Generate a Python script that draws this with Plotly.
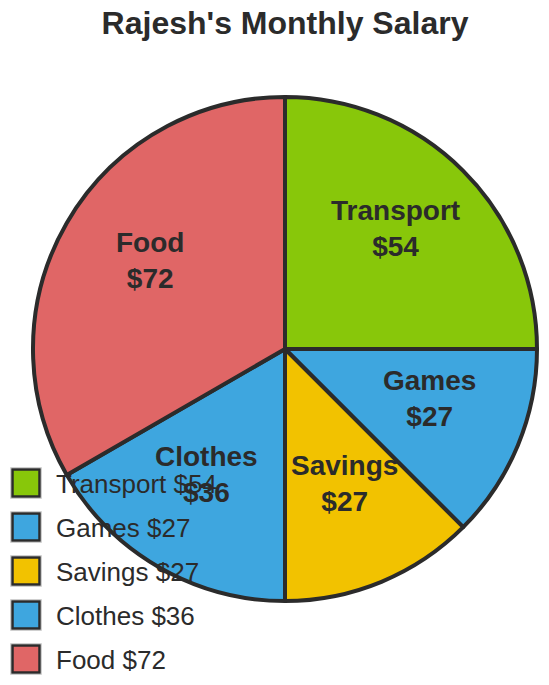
import math
import plotly.graph_objects as go

labels = ["Transport", "Games", "Savings", "Clothes", "Food"]
values = [54, 27, 27, 36, 72]
colors = ["#88c70a", "#3ea6df", "#f2c200", "#3ea6df", "#e06666"]
title = "Rajesh's Monthly Salary"

OFF = 8                      # page body margin
W, H = 549 - 2 * OFF, 685 - 2 * OFF
L, T, SIZE = 33 - OFF, 97 - OFF, 504   # plot area in figure pixels
R = SIZE / 2
CX, CY = L + R, T + R
TXT = "#2b2b2b"
FONT = "Liberation Sans, Arial, sans-serif"

def px_x(x):  # x given in page pixels
    return (x - OFF - L) / SIZE

def px_y(y):
    return 1 - (y - OFF - T) / SIZE

fig = go.Figure(go.Pie(
    labels=labels, values=values, sort=False, direction="clockwise", rotation=0,
    marker=dict(colors=colors, line=dict(color="#2b2b2b", width=4)),
    textinfo="none", hoverinfo="label+value", showlegend=False,
    domain=dict(x=[0, 1], y=[0, 1]),
))

annotations = []
shapes = []
total = sum(values)
cum = 0
PCX, PCY = CX + OFF, CY + OFF
for lab, v in zip(labels, values):
    mid = (cum + v / 2) / total * 2 * math.pi
    cum += v
    r = 0.62 * R
    x = PCX + r * math.sin(mid)
    y = PCY - r * math.cos(mid) - 10
    annotations.append(dict(
        x=px_x(x), y=px_y(y), xref="paper", yref="paper",
        text=f"<b>{lab}<br>${v}</b>", showarrow=False,
        font=dict(family=FONT, size=28, color=TXT),
        xanchor="center", yanchor="middle", align="center",
    ))

# legend
for i, (lab, v, c) in enumerate(zip(labels, values, colors)):
    cy = 483 + 44 * i
    shapes.append(dict(type="rect", xref="paper", yref="paper",
                       x0=px_x(10.5), x1=px_x(41.5), y0=px_y(cy - 15.5), y1=px_y(cy + 15.5),
                       line=dict(color="#cfcfcf", width=1), fillcolor="rgba(0,0,0,0)"))
    shapes.append(dict(type="rect", xref="paper", yref="paper",
                       x0=px_x(12.5), x1=px_x(39.5), y0=px_y(cy - 13.5), y1=px_y(cy + 13.5),
                       line=dict(color="#2b2b2b", width=2.5), fillcolor=c))
    annotations.append(dict(
        x=px_x(54), y=px_y(cy + 1), xref="paper", yref="paper",
        text=f"{lab} ${v}", showarrow=False,
        font=dict(family=FONT, size=26, color=TXT),
        xanchor="left", yanchor="middle",
    ))

fig.update_layout(
    width=W, height=H,
    margin=dict(l=L, r=W - L - SIZE, t=T, b=H - T - SIZE, pad=0),
    paper_bgcolor="white", plot_bgcolor="white",
    title=dict(text=f"<b>{title}</b>", x=0.5, xref="paper", xanchor="center",
               y=1 - (22.5 - OFF) / H, yref="container", yanchor="middle",
               font=dict(family=FONT, size=32, color=TXT)),
    annotations=annotations, shapes=shapes,
)

fig.write_html("out.html")
